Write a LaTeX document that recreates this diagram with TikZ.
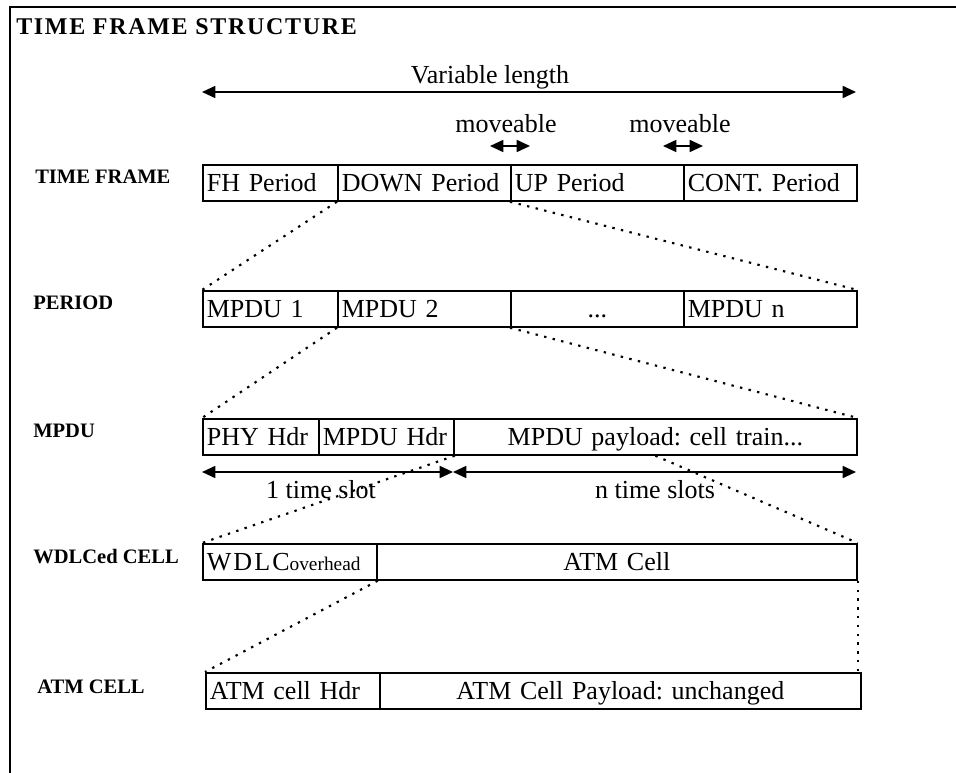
\documentclass[tikz,border=0pt]{standalone}
\usepackage{fontspec}
\setmainfont{Liberation Serif}
\newfontfamily\boxfont{Liberation Serif}
\newfontfamily\headfont{Liberation Serif}[LetterSpace=7]
\usetikzlibrary{arrows.meta}
\frenchspacing

\tikzset{
  cellbase/.style={draw, line width=1.3pt, minimum height=27pt, inner xsep=3pt,
    inner ysep=0pt, text height=12.5pt, text depth=0pt, anchor=north west,
    font=\boxfont\fontsize{19.5}{22}\selectfont},
  cellL/.style={cellbase, text width=#1, align=left},
  cellC/.style={cellbase, text width=#1, align=center},
  rowlabel/.style={anchor=base west, inner sep=0pt,
    font=\boxfont\bfseries\fontsize{15.4}{17}\selectfont},
  note/.style={anchor=base, inner sep=0pt, font=\boxfont\fontsize{19.5}{22}\selectfont},
  zoomline/.style={line width=1.6pt, dash pattern=on 1.8pt off 4.8pt},
  span/.style={line width=1.3pt,
    {Triangle[length=10pt,width=9pt]}-{Triangle[length=10pt,width=9pt]}},
}

\begin{document}
\begin{tikzpicture}[x=0.75pt,y=-0.75pt]
\useasboundingbox (0,0) rectangle (956,773);

% open frame
\draw[line width=1.5pt] (10,773) -- (10,7) -- (956,7);

% title
\node[anchor=base west, inner sep=0pt,
  font=\headfont\bfseries\fontsize{18}{20}\selectfont] (title) at (16,35)
  {TIME FRAME STRUCTURE};

% row labels
\node[rowlabel] (lblframe)  at (35,184) {TIME FRAME};
\node[rowlabel] (lblperiod) at (33,310) {PERIOD};
\node[rowlabel] (lblmpdu)   at (33,437) {MPDU};
\node[rowlabel] (lblwdlc)   at (33,563) {WDLCed CELL};
\node[rowlabel] (lblatm)    at (37,693) {ATM CELL};

% time frame row
\node[cellL=95.25pt]  (fh)   at (202,164) {FH Period};
\node[cellL=123.75pt] (down) at (337,164) {DOWN Period};
\node[cellL=123.75pt] (up)   at (510,164) {UP Period};
\node[cellL=123.75pt] (cont) at (683,164) {CONT. Period};

% period row
\node[cellL=95.25pt]  (mpdu1) at (202,290) {MPDU 1};
\node[cellL=123.75pt] (mpdu2) at (337,290) {MPDU 2};
\node[cellC=123.75pt] (dots)  at (510,290) {...};
\node[cellL=123.75pt] (mpdun) at (683,290) {MPDU n};

% MPDU row
\node[cellL=81pt]     (phy)     at (202,418) {PHY Hdr};
\node[cellL=95.25pt]  (mpduhdr) at (318,418) {MPDU Hdr};
\node[cellC=296.25pt] (payload) at (453,418) {MPDU payload: cell train...};

% WDLCed cell row
\node[cellL=124.5pt] (wdlc) at (202,543)
  {{\addfontfeature{LetterSpace=8}WDLC}{\fontsize{14.5}{16}\selectfont overhead}};
\node[cellC=354pt] (atmcell) at (376,543) {ATM Cell};

% ATM cell row
\node[cellL=124.5pt]   (atmhdr) at (205,672) {ATM cell Hdr};
\node[cellC=354.75pt]  (atmpay) at (379,672) {ATM Cell Payload: unchanged};

% overall length
\coordinate (vlL) at (202,92);
\coordinate (vlR) at (856,92);
\draw[span] (vlL) -- (vlR);
\node[note] (vltext) at (490,84) {Variable length};

% moveable boundaries
\coordinate (mvAL) at (490,146);
\coordinate (mvAR) at (530,146);
\coordinate (mvBL) at (663,146);
\coordinate (mvBR) at (703,146);
\draw[span] (mvAL) -- (mvAR);
\draw[span] (mvBL) -- (mvBR);
\node[note] (mvA) at (506,133) {moveable};
\node[note] (mvB) at (680,133) {moveable};

% time slots
\coordinate (tsL) at (202,472);
\coordinate (tsM) at (453,472);
\coordinate (tsR) at (856,472);
\draw[span] (tsL) -- (tsM);
\draw[span] (tsM) -- (tsR);
\node[note] (ts1) at (321,498) {1 time slot};
\node[note] (tsn) at (655,498) {n time slots};

% expansion lines
\draw[zoomline] (down.south west) -- (mpdu1.north west);
\draw[zoomline] (up.south west) -- (mpdun.north east);
\draw[zoomline] (mpdu2.south west) -- (phy.north west);
\draw[zoomline] (dots.south west) -- (payload.north east);
\draw[zoomline] (mpduhdr.south east) -- (wdlc.north west);
\draw[zoomline] (payload.south) -- (atmcell.north east);
\draw[zoomline] (wdlc.south east) -- (atmhdr.north west);
\draw[zoomline] (atmcell.south east) -- (atmcell.south east |- atmpay.north);
\end{tikzpicture}
\end{document}
